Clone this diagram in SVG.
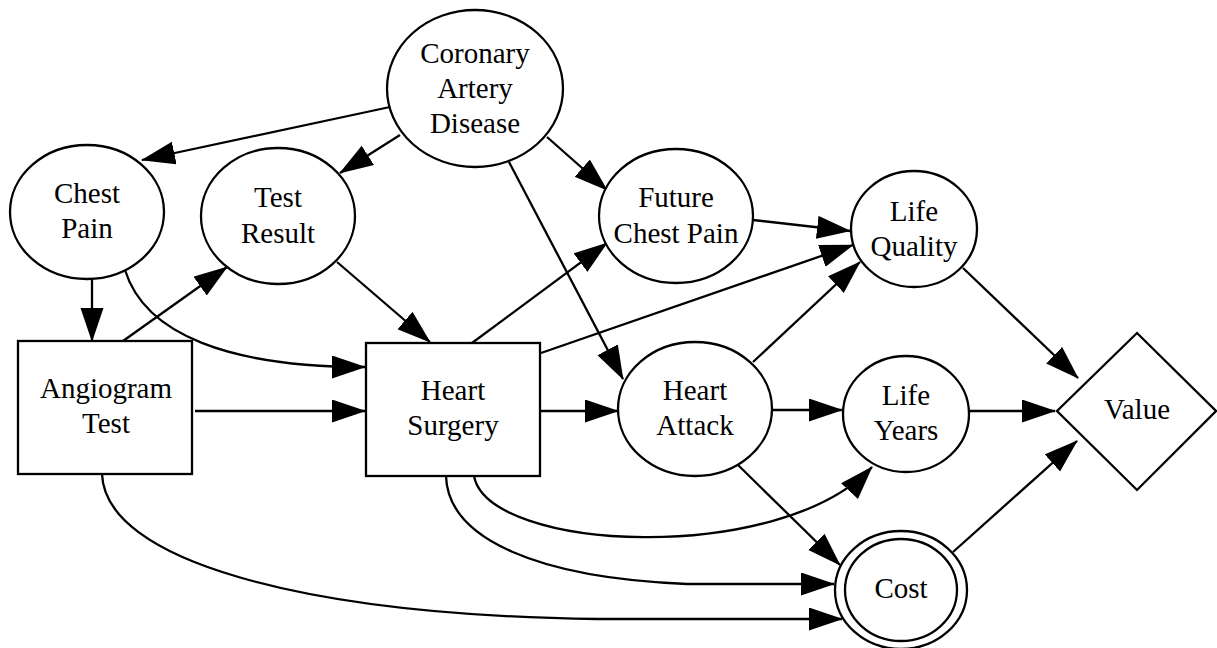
<svg xmlns="http://www.w3.org/2000/svg" width="1217" height="648" viewBox="0 0 1217 648">
<style>
.n{fill:#fff;stroke:#000;stroke-width:2.3}
.t{font-family:"Liberation Serif","Times New Roman",serif;font-size:29px;fill:#000;text-anchor:middle}
.e{fill:none;stroke:#000;stroke-width:2.3;marker-end:url(#ah)}
</style>
<defs>
<marker id="ah" markerUnits="userSpaceOnUse" markerWidth="34" markerHeight="24" refX="33" refY="11.5" orient="auto">
<path d="M0,0 L34,11.5 L0,23 z" fill="#000"/>
</marker>
</defs>
<rect width="1217" height="648" fill="#fff"/>
<g id="connectors">
<path class="e" d="M390,107 L142,160"/>
<path class="e" d="M400,135 L340,173"/>
<path class="e" d="M547,137 L607,190"/>
<path class="e" d="M509,162 L623,379"/>
<path class="e" d="M92,279 L92,341"/>
<path class="e" d="M125,270 C145,335 230,367 365,367"/>
<path class="e" d="M123,341 L227,267"/>
<path class="e" d="M337,262 L430,342"/>
<path class="e" d="M195,411 L365,411"/>
<path class="e" d="M472,343 L607,243"/>
<path class="e" d="M541,353 L853,245"/>
<path class="e" d="M753,220 L850,231"/>
<path class="e" d="M753,362 L860,262"/>
<path class="e" d="M963,268 L1078,378"/>
<path class="e" d="M540,411 L618,411"/>
<path class="e" d="M772,410 L842,410"/>
<path class="e" d="M969,411 L1055,411"/>
<path class="e" d="M738,465 L840,565"/>
<path class="e" d="M474,476 C488,552 780,566 872,467"/>
<path class="e" d="M446,476 C448,540 540,578 687,584 L834,584"/>
<path class="e" d="M102,474 C105,560 300,615 597,619 L842,619"/>
<path class="e" d="M953,552 L1077,441"/>
</g>
<g id="cad"><ellipse class="n" cx="475" cy="88.5" rx="88" ry="78.5"/>
<text class="t" x="475" y="63">Coronary</text><text class="t" x="475" y="98">Artery</text><text class="t" x="475" y="133">Disease</text></g>
<g id="chestpain"><ellipse class="n" cx="87" cy="212" rx="77" ry="67"/>
<text class="t" x="87" y="203">Chest</text><text class="t" x="87" y="238">Pain</text></g>
<g id="testresult"><ellipse class="n" cx="278" cy="216" rx="77" ry="68"/>
<text class="t" x="278" y="207">Test</text><text class="t" x="278" y="243">Result</text></g>
<g id="futurechestpain"><ellipse class="n" cx="676" cy="216" rx="77" ry="67"/>
<text class="t" x="676" y="207">Future</text><text class="t" x="676" y="243">Chest Pain</text></g>
<g id="lifequality"><ellipse class="n" cx="914" cy="229" rx="63" ry="58"/>
<text class="t" x="914" y="221">Life</text><text class="t" x="914" y="256">Quality</text></g>
<g id="angiogram"><rect class="n" x="18" y="341" width="174" height="133"/>
<text class="t" x="106" y="398">Angiogram</text><text class="t" x="106" y="433">Test</text></g>
<g id="heartsurgery"><rect class="n" x="366" y="343" width="174" height="133"/>
<text class="t" x="453" y="400">Heart</text><text class="t" x="453" y="435">Surgery</text></g>
<g id="heartattack"><ellipse class="n" cx="695" cy="409" rx="77" ry="67"/>
<text class="t" x="695" y="400">Heart</text><text class="t" x="695" y="435">Attack</text></g>
<g id="lifeyears"><ellipse class="n" cx="906" cy="414" rx="63" ry="58"/>
<text class="t" x="906" y="405">Life</text><text class="t" x="906" y="440">Years</text></g>
<g id="value"><polygon class="n" points="1137,333 1216,411 1137,490 1057,411"/>
<text class="t" x="1137" y="419">Value</text></g>
<g id="cost"><ellipse class="n" cx="901" cy="590" rx="66" ry="59"/><ellipse class="n" cx="901" cy="590" rx="56" ry="51"/>
<text class="t" x="901" y="598">Cost</text></g>
</svg>
